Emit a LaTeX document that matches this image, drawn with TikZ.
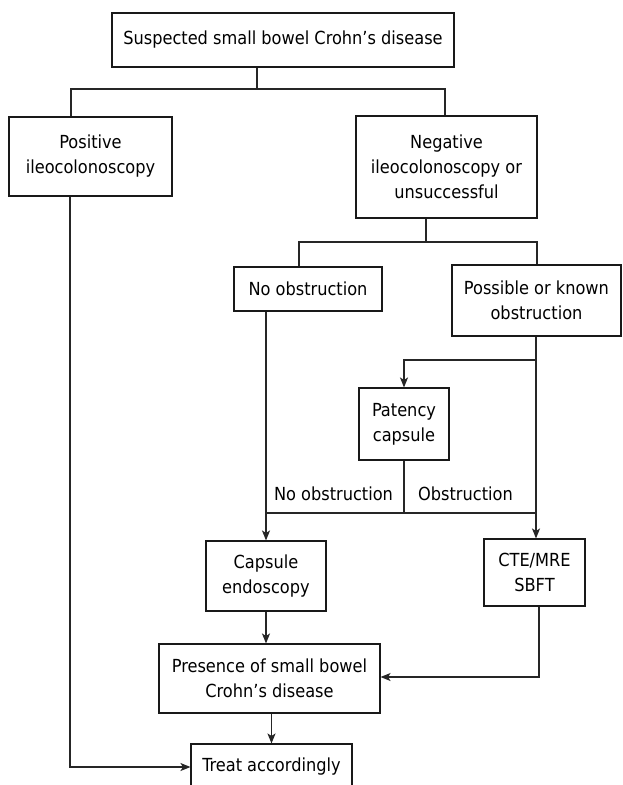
\documentclass[tikz,border=0pt]{standalone}
\usepackage{fontspec}
\setmainfont{DejaVu Sans Condensed}
\usetikzlibrary{arrows.meta}
\begin{document}
\begin{tikzpicture}[x=1pt,y=-1pt,
  box/.style={draw=black!90, line width=1.1pt, align=center, inner sep=0pt, font=\fontsize{18}{25}\selectfont},
  conn/.style={draw=black!85, line width=1.1pt},
  arr/.style={conn, -{Stealth[length=10pt,width=8pt,inset=2.5pt]}},
  lbl/.style={font=\fontsize{18}{25}\selectfont, inner sep=0pt}]
\clip (0,0) rectangle (622,785);
\fill[white] (0,0) rectangle (622,785);
% nodes
\node[box, minimum width=342pt, minimum height=54pt] (top) at (283,40) {Suspected small bowel Crohn’s disease};
\node[box, minimum width=163pt, minimum height=79pt] (pos) at (90.5,156.5) {Positive\\ileocolonoscopy};
\node[box, minimum width=181pt, minimum height=102pt] (neg) at (446.5,167) {Negative\\ileocolonoscopy or\\unsuccessful};
\node[box, minimum width=148pt, minimum height=44pt] (noobs) at (308,289) {No obstruction};
\node[box, minimum width=169pt, minimum height=71pt] (poss) at (536.5,300.5) {Possible or known\\obstruction};
\node[box, minimum width=90pt, minimum height=72pt] (pat) at (404,424) {Patency\\capsule};
\node[box, minimum width=120pt, minimum height=70pt] (caps) at (266,576) {Capsule\\endoscopy};
\node[box, minimum width=101pt, minimum height=67pt] (cte) at (534.5,572.5) {CTE/MRE\\SBFT};
\node[box, minimum width=221pt, minimum height=69pt] (pres) at (269.5,678.5) {Presence of small bowel\\Crohn’s disease};
\node[box, minimum width=161pt, minimum height=46pt] (treat) at (271.5,767) {Treat accordingly};
% labels
\node[lbl] (lno) at (333.5,494) {No obstruction};
\node[lbl] (lob) at (465.5,494) {Obstruction};
% junction coordinates
\coordinate (j1) at (257,89);
\coordinate (hl1) at (71,89);
\coordinate (hr1) at (445,89);
\coordinate (j2) at (426,242);
\coordinate (hl2) at (299,242);
\coordinate (hr2) at (537,242);
\coordinate (b3) at (536,360);
\coordinate (j4) at (404,513);
\coordinate (c5) at (539,677);
\coordinate (c6) at (70,767);
% connectors
\draw[conn] (top.south -| j1) -- (j1);
\draw[conn] (pos.north -| hl1) -- (hl1) -- (hr1) -- (neg.north -| hr1);
\draw[conn] (neg.south -| j2) -- (j2);
\draw[conn] (noobs.north -| hl2) -- (hl2) -- (hr2) -- (poss.north -| hr2);
\draw[arr] (poss.south -| b3) -- (cte.north -| b3);
\draw[arr] (b3) -| (pat.north);
\draw[conn] (pat.south) -- (j4);
\draw[conn] (caps.north |- j4) -- (b3 |- j4);
\draw[arr] (noobs.south -| caps.north) -- (caps.north);
\draw[arr] (caps.south) -- (caps.south |- pres.north);
\draw[arr] (cte.south -| c5) -- (c5) -- (pres.east |- c5);
\draw[arr] (pres.south -| treat.north) -- (treat.north);
\draw[arr] (pos.south -| c6) -- (c6) -- (treat.west |- c6);
\end{tikzpicture}
\end{document}
